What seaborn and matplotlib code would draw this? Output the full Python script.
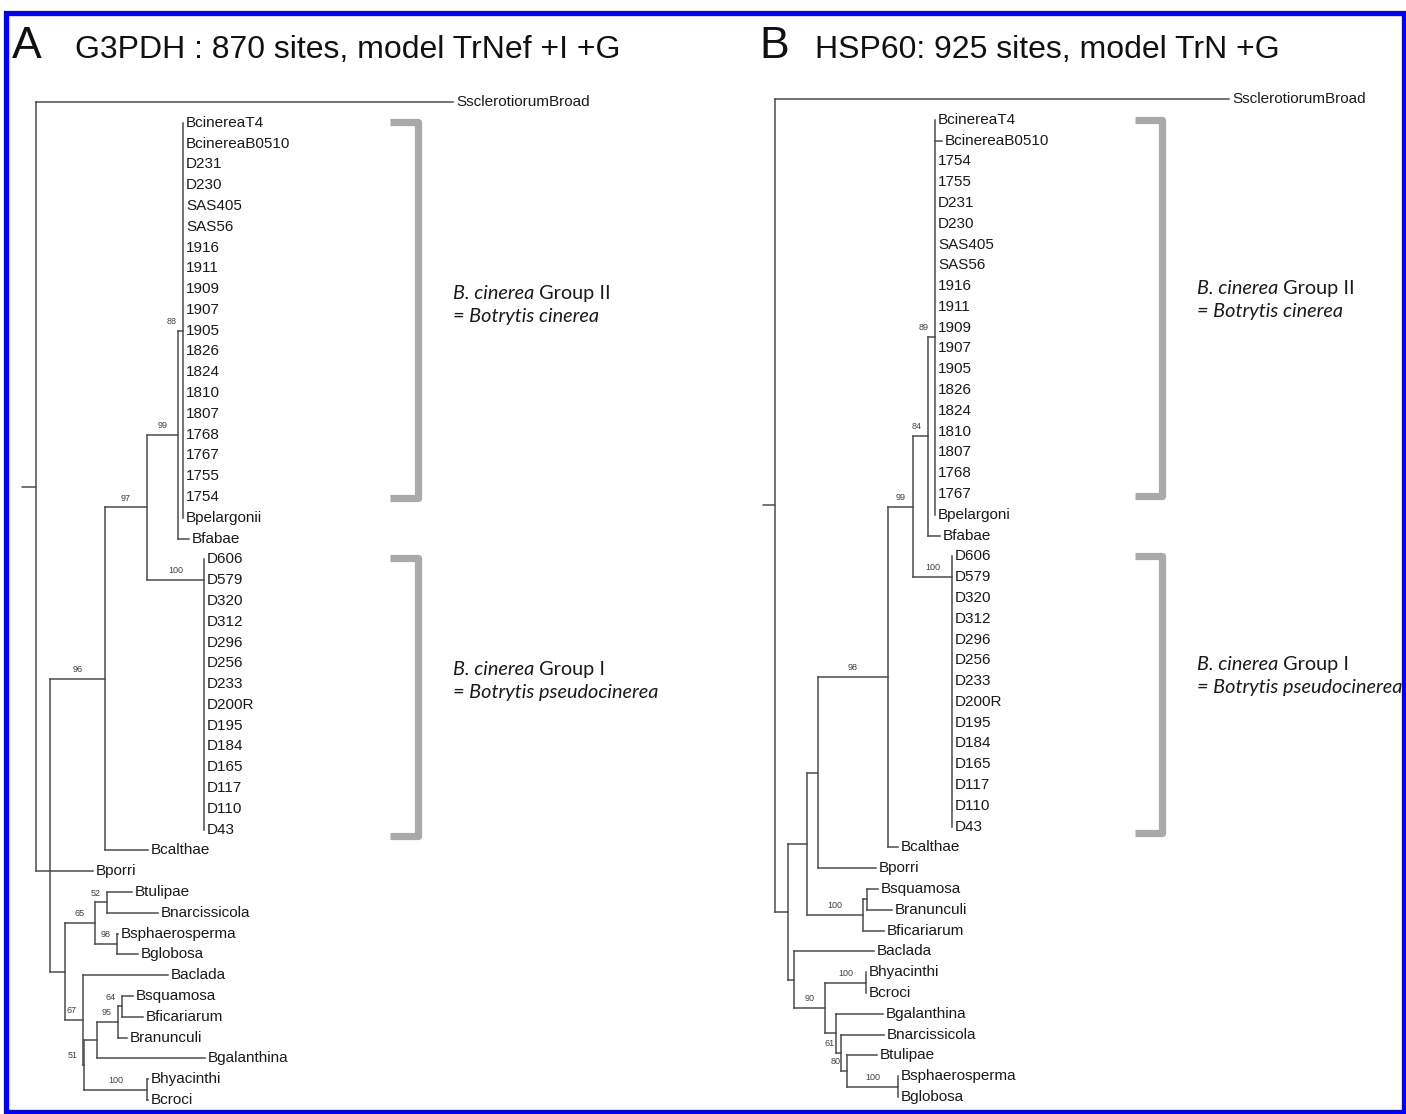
import numpy as np
import pandas as pd
import matplotlib
matplotlib.use('Agg')
import matplotlib.pyplot as plt
from matplotlib.patches import Rectangle
import seaborn as sns

sns.set_style('white')
plt.rcParams['font.family'] = ['Liberation Sans', 'DejaVu Sans']

#%% DATA -- read off the two trees (depth = distance from root, drawing units)

# Panel A: G3PDH
leaves_A = ['SsclerotiorumBroad', 'BcinereaT4', 'BcinereaB0510', 'D231', 'D230', 'SAS405', 'SAS56',
            '1916', '1911', '1909', '1907', '1905', '1826', '1824', '1810', '1807', '1768', '1767',
            '1755', '1754', 'Bpelargonii', 'Bfabae', 'D606', 'D579', 'D320', 'D312', 'D296', 'D256',
            'D233', 'D200R', 'D195', 'D184', 'D165', 'D117', 'D110', 'D43', 'Bcalthae', 'Bporri',
            'Btulipae', 'Bnarcissicola', 'Bsphaerosperma', 'Bglobosa', 'Baclada', 'Bsquamosa',
            'Bficariarum', 'Branunculi', 'Bgalanthina', 'Bhyacinthi', 'Bcroci']
leaf_parent_A = (['root'] + ['n88'] * 20 + ['n99'] + ['n100'] * 14 + ['n96', 'I']
                 + ['n52', 'n52', 'n98', 'n98', 'n67', 'n64', 'n64', 'n95', 'X', 'nHy', 'nHy'])
leaf_depth_A = ([417] + [147] * 20 + [153] + [168] * 14 + [112, 57]
                + [96, 122, 82, 102, 132, 97, 107, 91, 169, 112, 112])
node_A = ['root', 'I', 'n96', 'n97', 'n99', 'n88', 'n100', 'L', 'n65', 'n52', 'n98',
          'n67', 'n51', 'X', 'n95', 'n64', 'nHy']
node_parent_A = [None, 'root', 'I', 'n96', 'n97', 'n99', 'n97', 'I', 'L', 'n65', 'n65',
                 'L', 'n67', 'n51', 'X', 'n95', 'n51']
node_depth_A = [0, 14, 69, 111, 142, 147, 168, 29, 59, 71, 81, 47, 48, 61, 82, 86, 111]
support_A = ['', '', '96', '97', '99', '88', '100', '', '65', '52', '98', '67', '51', '', '95', '64', '100']
anchor_A = {'n100': 23}

# Panel B: HSP60
leaves_B = ['SsclerotiorumBroad', 'BcinereaT4', 'BcinereaB0510', '1754', '1755', 'D231', 'D230',
            'SAS405', 'SAS56', '1916', '1911', '1909', '1907', '1905', '1826', '1824', '1810', '1807',
            '1768', '1767', 'Bpelargoni', 'Bfabae', 'D606', 'D579', 'D320', 'D312', 'D296', 'D256',
            'D233', 'D200R', 'D195', 'D184', 'D165', 'D117', 'D110', 'D43', 'Bcalthae', 'Bporri',
            'Bsquamosa', 'Branunculi', 'Bficariarum', 'Baclada', 'Bhyacinthi', 'Bcroci',
            'Bgalanthina', 'Bnarcissicola', 'Btulipae', 'Bsphaerosperma', 'Bglobosa']
leaf_parent_B = (['root'] + ['n89'] * 20 + ['n84'] + ['n100a'] * 14 + ['n98', 'n818']
                 + ['nSq2', 'nSq2', 'nSq', 'n794', 'nHy', 'nHy', 'nA', 'n61', 'n80', 'nSph', 'nSph'])
leaf_depth_B = ([454, 160, 167] + [160] * 18 + [165] + [177] * 14 + [123, 101]
                + [103, 117, 109, 99, 91, 91, 108, 109, 102, 123, 123])
node_B = ['root', 'I', 'n807', 'n818', 'n98', 'n99', 'n84', 'n89', 'n100a', 'nSq', 'nSq2',
          'n794', 'n90', 'nHy', 'nA', 'n61', 'n80', 'nSph']
node_parent_B = [None, 'root', 'I', 'n807', 'n818', 'n98', 'n99', 'n84', 'n99', 'n807', 'nSq',
                 'I', 'n794', 'n90', 'n90', 'nA', 'n61', 'n80']
node_depth_B = [0, 13, 32, 43, 113, 138, 153, 160, 177, 88, 92, 19, 50, 91, 61, 66, 72, 123]
support_B = ['', '', '', '', '98', '99', '84', '89', '100', '100', '', '', '90', '100', '', '61', '80', '100']
anchor_B = {'n89': 11.45, 'n100a': 23}

titles = ['G3PDH : 870 sites, model TrNef +I +G', 'HSP60: 925 sites, model TrN +G']
panel_letters = ['A', 'B']
group_names = [('B. cinerea', ' Group II', '= Botrytis cinerea'),
               ('B. cinerea', ' Group I', '= Botrytis pseudocinerea')]
group_rows_A = [(0.96, 19.05), (21.95, 35.3)]
group_rows_B = [(1.0, 19.1), (22.0, 35.3)]
group_text_rows_A = [(9.2, 10.3), (27.3, 28.4)]
group_text_rows_B = [(9.1, 10.2), (27.2, 28.3)]

W, H = 1406, 1114
ROW = 20.79  # pixels per leaf row


def build(leaves, leaf_parent, leaf_depth, nodes, node_parent, node_depth, anchor):
    depth = dict(zip(leaves, leaf_depth))
    depth.update(dict(zip(nodes, node_depth)))
    parent = dict(zip(leaves, leaf_parent))
    parent.update({n: p for n, p in zip(nodes, node_parent) if p is not None})
    children = {n: [] for n in nodes}
    for c, p in parent.items():
        children[p].append(c)
    row = {l: i for i, l in enumerate(leaves)}

    def get_row(n):
        if n in row:
            return row[n]
        rs = sorted(get_row(c) for c in children[n])
        if n in anchor:
            r = anchor[n]
        elif len(rs) == 2:
            r = (rs[0] + rs[1]) / 2
        else:
            r = rs[len(rs) // 2]
        row[n] = r
        return r

    for n in nodes:
        get_row(n)

    segs = []
    k = 0
    for n in nodes:
        rs = [row[c] for c in children[n]]
        segs += [(k, depth[n], min(rs)), (k, depth[n], max(rs))]
        k += 1
    for c, p in parent.items():
        segs += [(k, depth[p], row[c]), (k, depth[c], row[c])]
        k += 1
    df = pd.DataFrame(segs, columns=['seg', 'x', 'y'])
    return df, depth, parent, row


def draw_panel(ax, leaves, leaf_parent, leaf_depth, nodes, node_parent, node_depth, support,
               anchor, stub, group_rows, text_rows, bracket_x, text_x):
    df, depth, parent, row = build(leaves, leaf_parent, leaf_depth, nodes, node_parent,
                                   node_depth, anchor)
    sns.lineplot(data=df, x='x', y='y', units='seg', estimator=None, sort=False,
                 color='#4d4d4d', linewidth=1.1, ax=ax, legend=False,
                 solid_capstyle='projecting')
    ax.plot([stub, 0], [row['root'], row['root']], color='#4d4d4d', lw=1.1)

    for l in leaves:
        ax.text(depth[l] + 3, row[l], l, va='center', ha='left', fontsize=11, color='#1a1a1a')

    for n, s in zip(nodes, support):
        if s:
            p = parent[n]
            cx = min((depth[p] + depth[n]) / 2, depth[n] - 11)
            ax.text(cx, row[n] - 0.45, s, ha='center', va='center', fontsize=6.5, color='#404040')

    # group brackets and their captions
    for (r0, r1), (t0, t1), (it, rest, line2) in zip(group_rows, text_rows, group_names):
        x0, x1 = bracket_x
        ax.plot([x0, x1, x1, x0], [r0, r0, r1, r1], color='#a9a9a9', lw=5.2,
                solid_joinstyle='round', solid_capstyle='butt')
        t = ax.text(text_x, t0, it, style='italic', fontsize=14.3, family='Lato',
                    va='center', ha='left', color='#1a1a1a')
        ax.annotate(rest, xy=(1, 0.5), xycoords=t, va='center', ha='left', fontsize=14.3,
                    family='Lato', color='#1a1a1a')
        ax.text(text_x, t1, line2, style='italic', fontsize=14.3, family='Lato',
                va='center', ha='left', color='#1a1a1a')


fig = plt.figure(figsize=(W / 100, H / 100), dpi=100)

# panel A: root drawn at pixel x=36, first leaf row at pixel y=102
axA = fig.add_axes([0, 0, 703 / W, 1])
draw_panel(axA, leaves_A, leaf_parent_A, leaf_depth_A, node_A, node_parent_A, node_depth_A,
           support_A, anchor_A, -14, group_rows_A, group_text_rows_A, (354, 382), 417)
axA.set_xlim(-36, 703 - 36)
axA.set_ylim((H - 102) / ROW, -102 / ROW)
axA.set_axis_off()

# panel B: root at pixel x=775, first leaf row at pixel y=99
axB = fig.add_axes([703 / W, 0, 703 / W, 1])
draw_panel(axB, leaves_B, leaf_parent_B, leaf_depth_B, node_B, node_parent_B, node_depth_B,
           support_B, anchor_B, -12, group_rows_B, group_text_rows_B, (360, 387), 422)
axB.set_xlim(703 - 775, W - 775)
axB.set_ylim((H - 99) / ROW, -99 / ROW)
axB.set_axis_off()

# panel titles
for (lx, tx), letter, title in zip([(12, 75), (759, 815)], panel_letters, titles):
    fig.text(lx / W, 1 - 58 / H, letter, fontsize=32, va='baseline', ha='left', color='#111111')
    fig.text(tx / W, 1 - 58 / H, title, fontsize=23, va='baseline', ha='left', color='#111111')

# blue frame
fig.patches.append(Rectangle((5.5 / W, 2.5 / H), (W - 8) / W, (H - 15) / H, transform=fig.transFigure,
                             fill=False, edgecolor='#0000ff', linewidth=3.8))

fig.savefig('out.png', dpi=100, facecolor='white')
